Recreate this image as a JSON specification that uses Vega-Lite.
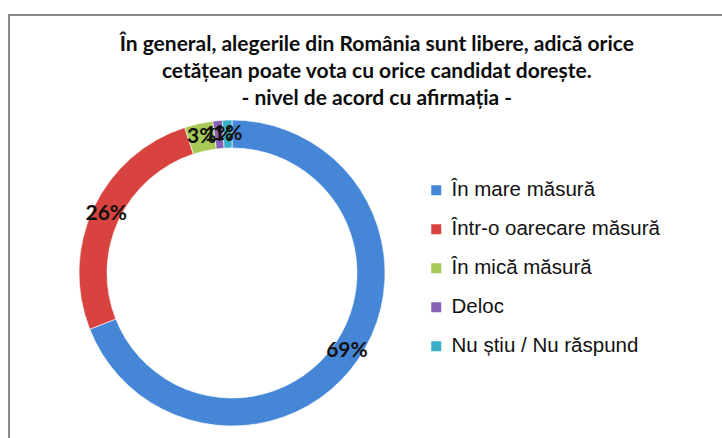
{
  "$schema": "https://vega.github.io/schema/vega-lite/v6.json",
  "autosize": {"type": "pad"},
  "padding": {"left": 7, "top": 13, "right": 0, "bottom": 0},
  "background": "white",
  "title": {
    "text": ["În general, alegerile din România sunt libere, adică orice", "cetățean poate vota cu orice candidat dorește.", "- nivel de acord cu afirmația -"],
    "font": "Lato", "fontSize": 21, "fontWeight": "bold", "color": "#0d0d0d",
    "lineHeight": 27, "anchor": "middle", "offset": -95
  },
  "data": {"values": [
    {"cat": "În mare măsură", "k": 1, "share": 0.69},
    {"cat": "Într-o oarecare măsură", "k": 2, "share": 0.26},
    {"cat": "În mică măsură", "k": 3, "share": 0.03},
    {"cat": "Deloc", "k": 4, "share": 0.01},
    {"cat": "Nu știu / Nu răspund", "k": 5, "share": 0.01}
  ]},
  "spacing": 0,
  "bounds": "flush",
  "hconcat": [
    {
      "width": 446, "height": 516,
      "view": {"stroke": "#8a8a8a", "strokeWidth": 2, "strokeCap": "square", "strokeDash": [444, 964, 516, 0]},
      "encoding": {
        "theta": {"field": "share", "type": "quantitative", "stack": true},
        "order": {"field": "k", "type": "quantitative"}
      },
      "layer": [
        {
          "mark": {"type": "arc", "innerRadius": 125, "outerRadius": 153, "stroke": "#ffffff", "strokeWidth": 0.6},
          "encoding": {
            "color": {
              "field": "cat", "type": "nominal",
              "scale": {
                "domain": ["În mare măsură", "Într-o oarecare măsură", "În mică măsură", "Deloc", "Nu știu / Nu răspund"],
                "range": ["#4686d6", "#d8433f", "#a6c957", "#8762b6", "#39afc6"]
              },
              "legend": {
                "orient": "none", "legendX": 417, "legendY": 165, "title": null,
                "symbolType": "square", "symbolSize": 100, "symbolStrokeWidth": 0,
                "labelFont": "Liberation Sans", "labelFontSize": 20.5, "labelColor": "#111111",
                "rowPadding": 18, "labelOffset": 5, "labelLimit": 400
              }
            }
          }
        },
        {
          "mark": {"type": "text", "radius": 139, "font": "Lato", "fontWeight": "bold", "fontSize": 21, "color": "#111111"},
          "encoding": {
            "detail": {"field": "cat", "type": "nominal"},
            "text": {"field": "share", "type": "quantitative", "format": ".0%"}
          }
        }
      ]
    },
    {
      "width": 290, "height": 0.01,
      "view": {"stroke": "#8a8a8a", "strokeWidth": 2, "strokeCap": "butt"},
      "data": {"values": []},
      "mark": "point"
    }
  ]
}
